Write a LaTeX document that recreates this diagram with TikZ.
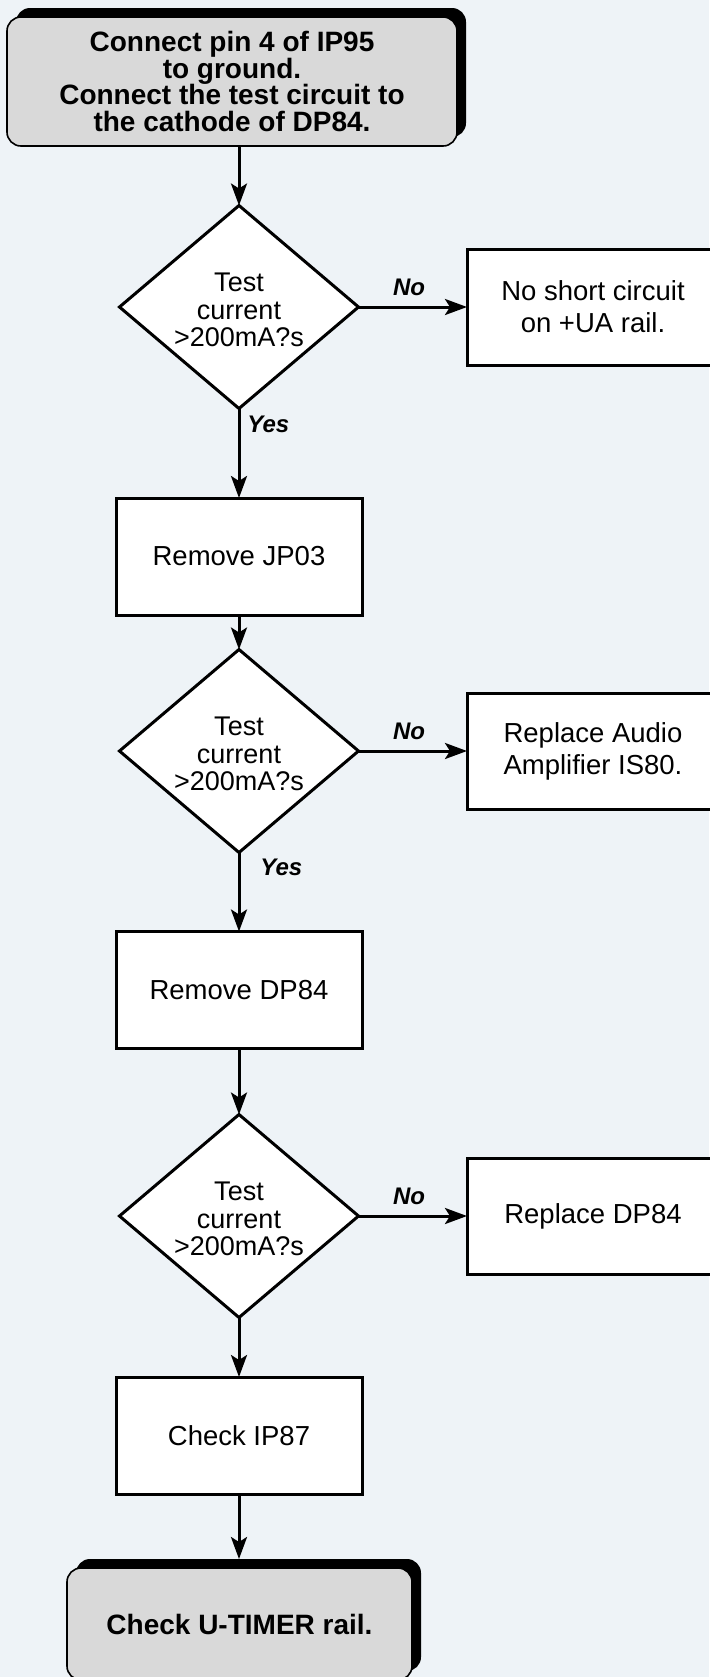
\documentclass[tikz,border=0pt]{standalone}
\usepackage{fontspec}
\setmainfont{Liberation Sans}
\usetikzlibrary{shapes.geometric,arrows.meta,shadows}
\definecolor{bgc}{HTML}{EEF3F7}
\definecolor{grayfill}{HTML}{D9D9D9}
\tikzset{
  procbox/.style={draw=black, line width=1.5pt, fill=white, rectangle, inner sep=0pt, outer sep=0pt,
     minimum width=123pt, minimum height=58.5pt, align=center, font=\fontsize{13.75pt}{16pt}\selectfont},
  sidebox/.style={procbox, minimum width=126pt, minimum height=58pt},
  decbox/.style={draw=black, line width=1.5pt, fill=white, diamond, inner sep=0pt, outer sep=0pt,
     minimum width=119.5pt, minimum height=101.5pt},
  dectext/.style={align=center, inner sep=0pt, font=\fontsize{13.5pt}{13.75pt}\selectfont},
  termbox/.style={draw=black, line width=0.8pt, fill=grayfill, rectangle, rounded corners=7pt,
     inner sep=0pt, outer sep=0pt, align=center,
     general shadow={fill=black, shadow xshift=4.5pt, shadow yshift=4.5pt}},
  arr/.style={line width=1.5pt, -{Stealth[length=11pt,width=8pt,inset=2.5pt]}},
  lbl/.style={inner sep=0pt, font=\fontsize{12pt}{14pt}\selectfont\bfseries\itshape}
}
\begin{document}
\begin{tikzpicture}[x=0.5pt,y=-0.5pt]
\fill[bgc] (0,0) rectangle (709,1677);
\useasboundingbox (0,0) rectangle (709,1677);

% start terminal
\node[termbox, minimum width=225pt, minimum height=64.5pt,
      font=\fontsize{14pt}{13.3pt}\selectfont\bfseries] (start) at (232,81.5)
  {Connect pin 4 of IP95\\to ground.\\Connect the test circuit to\\the cathode of DP84.};

% decisions
\node[decbox] (d1) at (239,307) {};
\node[dectext] (t1) at (239,310) {Test\\current\\>200mA?s};
\node[decbox] (d2) at (239,751) {};
\node[dectext] (t2) at (239,754) {Test\\current\\>200mA?s};
\node[decbox] (d3) at (239,1216) {};
\node[dectext] (t3) at (239,1219) {Test\\current\\>200mA?s};

% side boxes
\node[sidebox] (s1) at (593,307) {No short circuit\\on +UA rail.};
\node[sidebox] (s2) at (593,751) {Replace Audio\\Amplifier IS80.};
\node[sidebox] (s3) at (593,1216) {Replace DP84};

% process boxes
\node[procbox] (p1) at (239,556.5) {Remove JP03};
\node[procbox] (p2) at (239,990) {Remove DP84};
\node[procbox] (p3) at (239,1435.5) {Check IP87};

% end terminal
\node[termbox, minimum width=172.5pt, minimum height=56pt,
      font=\fontsize{14pt}{16pt}\selectfont\bfseries] (stop) at (239.5,1624)
  {Check U-TIMER rail.};

% connectors
\draw[arr] (start.south -| d1.north) -- (d1.north);
\draw[arr] (d1.east) -- (s1.west);
\draw[arr] (d1.south) -- (p1.north);
\draw[arr] (p1.south) -- (d2.north);
\draw[arr] (d2.east) -- (s2.west);
\draw[arr] (d2.south) -- (p2.north);
\draw[arr] (p2.south) -- (d3.north);
\draw[arr] (d3.east) -- (s3.west);
\draw[arr] (d3.south) -- (p3.north);
\draw[arr] (p3.south) -- ([yshift=4.5pt]stop.north -| p3.south);

% labels
\node[lbl, anchor=base] (n1) at (409,295) {No};
\node[lbl, anchor=base] (n2) at (409,739) {No};
\node[lbl, anchor=base] (n3) at (409,1204) {No};
\node[lbl, anchor=base west] (y1) at (247,432) {Yes};
\node[lbl, anchor=base west] (y2) at (260,875) {Yes};
\end{tikzpicture}
\end{document}
